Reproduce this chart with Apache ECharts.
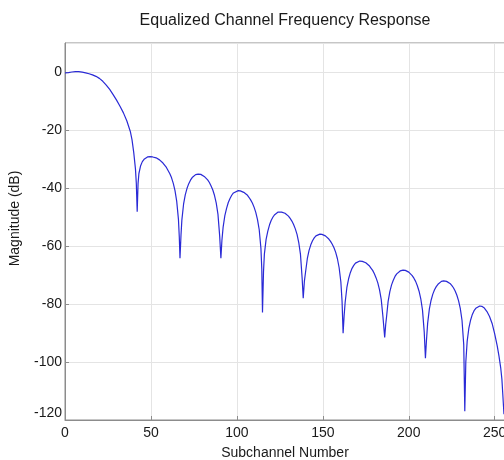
<!DOCTYPE html>
<html>
<head>
<meta charset="utf-8">
<script src="https://cdn.jsdelivr.net/npm/echarts@6/dist/echarts.min.js"></script>
<style>
  html, body { margin: 0; padding: 0; background: #fff; }
  #chart { width: 504px; height: 460px; }
</style>
</head>
<body>
<div id="chart"></div>
<script>
// [subchannel, dB], one array per lobe
const mainLobe = [[0, -0.3], [2, -0.2], [4, 0], [6, 0.1], [8, 0.1], [10, -0.05], [12, -0.3], [14, -0.6],
  [16, -1.0], [18, -1.5], [20, -2.2], [22, -3.2], [24, -4.5], [26, -6.0], [28, -7.8], [30, -9.7],
  [32, -11.8], [34, -14.1], [36, -16.9], [38, -20.5], [39, -23.4], [40, -27.8], [41, -33.5], [41.5, -38.5], [42, -48.2]]
const lobe1 = [[42.5, -38.5], [43, -35], [44, -32.3], [45, -30.9], [46, -30.1], [47, -29.6], [48, -29.3],
  [49.5, -29.2], [51, -29.3], [53, -29.6], [55, -30.3], [57, -31.4], [59, -32.9], [61, -35.1], [62, -36.5],
  [63, -38.4], [64, -40.9], [65, -44.6], [66, -50.8], [66.5, -57], [66.9, -64.2]]
const lobe2 = [[67.5, -56.1], [68, -51], [69, -45.5], [70, -42.3], [71, -40.1], [72, -38.5], [73, -37.3],
  [74, -36.4], [75, -35.8], [76, -35.4], [77.5, -35.2], [79, -35.3], [80, -35.6], [81, -36], [82, -36.5],
  [83, -37.2], [84, -38.1], [85, -39.3], [86, -40.7], [87, -42.6], [88, -45.2], [89, -49.1], [90, -56.6], [90.7, -64.2]]
const lobe3 = [[91.3, -58], [92, -53.5], [93, -49.5], [94, -47], [95, -45], [96, -43.6], [97, -42.5],
  [98, -41.7], [99, -41.2], [100.8, -40.9], [102, -41], [103, -41.2], [104, -41.5], [105, -41.9], [106, -42.4],
  [107, -43.2], [108, -44.1], [109, -45.2], [110, -46.6], [111, -48.4], [112, -50.9], [113, -54.4],
  [114, -60.9], [114.5, -68], [114.9, -82.9]]
const lobe4 = [[115.5, -68.8], [116, -62.8], [117, -57.7], [118, -54.9], [119, -52.7], [120, -51.1],
  [121, -50], [122, -49.2], [123, -48.6], [124, -48.3], [125, -48.2], [126, -48.3], [127, -48.4], [128, -48.7],
  [129, -49.2], [130, -49.7], [131, -50.5], [132, -51.4], [133, -52.6], [134, -54.1], [135, -56], [136, -58.8],
  [137, -62.9], [138, -71.4], [138.6, -78]]
const lobe5 = [[139.3, -72], [140, -68.8], [141, -64.3], [142, -61.5], [143, -59.6], [144, -58.2], [145, -57.2],
  [146, -56.5], [147, -56.1], [148.3, -55.9], [149.5, -56], [150.5, -56.2], [151.5, -56.5], [152.5, -57],
  [153.5, -57.6], [154.5, -58.4], [155.5, -59.4], [156.5, -60.6], [157.5, -62.2], [158.5, -64.4],
  [159.5, -67.5], [160.5, -72.4], [161.2, -79.1], [161.8, -90.1]]
const lobe6 = [[162.4, -84], [163, -79.4], [164, -74.3], [165, -71.3], [166, -69.2], [167, -67.7], [168, -66.7],
  [169, -65.9], [170, -65.5], [171.5, -65.2], [173, -65.3], [174, -65.5], [175, -65.8], [176, -66.3],
  [177, -66.8], [178, -67.6], [179, -68.4], [180, -69.6], [181, -71], [182, -72.7], [183, -75.1],
  [184, -78.5], [185, -84.5], [186, -91.5]]
const lobe7 = [[186.6, -87], [187, -84.9], [188, -79.1], [189, -75.7], [190, -73.4], [191, -71.8], [192, -70.5],
  [193, -69.6], [194, -69], [195, -68.6], [196.7, -68.3], [198, -68.4], [199, -68.6], [200, -69], [201, -69.5],
  [202, -70.2], [203, -71.1], [204, -72.2], [205, -73.7], [206, -75.6], [207, -78.2], [208, -82.1],
  [209, -89.6], [209.7, -98.7]]
const lobe8 = [[210.3, -92.6], [211, -86.6], [212, -81.7], [213, -78.7], [214, -76.6], [215, -75.1], [216, -74],
  [217, -73.2], [218, -72.6], [219, -72.2], [220.3, -72], [222, -72.2], [223, -72.5], [224, -72.9],
  [225, -73.6], [226, -74.4], [227, -75.5], [228, -77], [229, -78.9], [230, -81.6], [231, -85.7],
  [232, -94.1], [232.6, -117]]
const lobe9 = [[233.2, -100], [234, -92.8], [235, -88.2], [236, -85.5], [237, -83.6], [238, -82.3], [239, -81.5],
  [240, -80.9], [241.3, -80.7], [242.5, -80.8], [244, -81.4], [245.5, -82.6], [247, -84.3], [248.5, -86.7],
  [250, -90.3], [251.5, -94.5], [252.5, -98], [253.5, -102], [254.2, -106], [254.8, -112], [255.4, -118]]

const response = mainLobe.concat(lobe1, lobe2, lobe3, lobe4, lobe5, lobe6, lobe7, lobe8, lobe9)

const font = 'Liberation Sans, Arial, Helvetica, sans-serif'
const chart = echarts.init(document.getElementById('chart'), null, { renderer: 'canvas' })

chart.setOption({
  animation: false,
  backgroundColor: '#fff',
  textStyle: { fontFamily: font },
  title: {
    text: 'Equalized Channel Frequency Response',
    left: 285,
    top: 13,
    padding: 0,
    textAlign: 'center',
    textStyle: { fontSize: 16, fontWeight: 'normal', color: '#1a1a1a', fontFamily: font }
  },
  grid: {
    left: 65,
    top: 43,
    right: -1,
    bottom: 40,
    outerBoundsMode: 'none',
    containLabel: false,
    show: true,
    borderColor: '#8c8c8c',
    borderWidth: 1
  },
  xAxis: {
    type: 'value',
    min: 0,
    max: 256,
    interval: 50,
    name: 'Subchannel Number',
    nameLocation: 'middle',
    nameGap: 26,
    nameTextStyle: { fontSize: 14, color: '#1a1a1a', fontFamily: font },
    axisLine: { onZero: false, lineStyle: { color: '#8c8c8c', width: 1 } },
    axisTick: { inside: true, length: 4, lineStyle: { color: '#8c8c8c' } },
    axisLabel: { fontSize: 14, color: '#1a1a1a', margin: 6, showMaxLabel: false, fontFamily: font },
    splitLine: { show: true, lineStyle: { color: '#e4e4e4', width: 1 } }
  },
  yAxis: {
    type: 'value',
    min: -120,
    max: 10,
    interval: 20,
    name: 'Magnitude (dB)',
    nameLocation: 'middle',
    nameGap: 43,
    nameTextStyle: { fontSize: 14, color: '#1a1a1a', fontFamily: font, padding: [0, 0, 0, 26] },
    axisLine: { show: true, onZero: false, lineStyle: { color: '#8c8c8c', width: 1 } },
    axisTick: { show: true, inside: true, length: 4, lineStyle: { color: '#8c8c8c' } },
    axisLabel: { fontSize: 14, color: '#1a1a1a', margin: 3, showMaxLabel: false,
      verticalAlignMinLabel: 'bottom', fontFamily: font },
    splitLine: { show: true, lineStyle: { color: '#e4e4e4', width: 1 } }
  },
  series: [{
    type: 'line',
    data: response,
    showSymbol: false,
    smooth: false,
    lineStyle: { color: '#2a2ad6', width: 1.2 },
    emphasis: { disabled: true }
  }]
})
</script>
</body>
</html>
